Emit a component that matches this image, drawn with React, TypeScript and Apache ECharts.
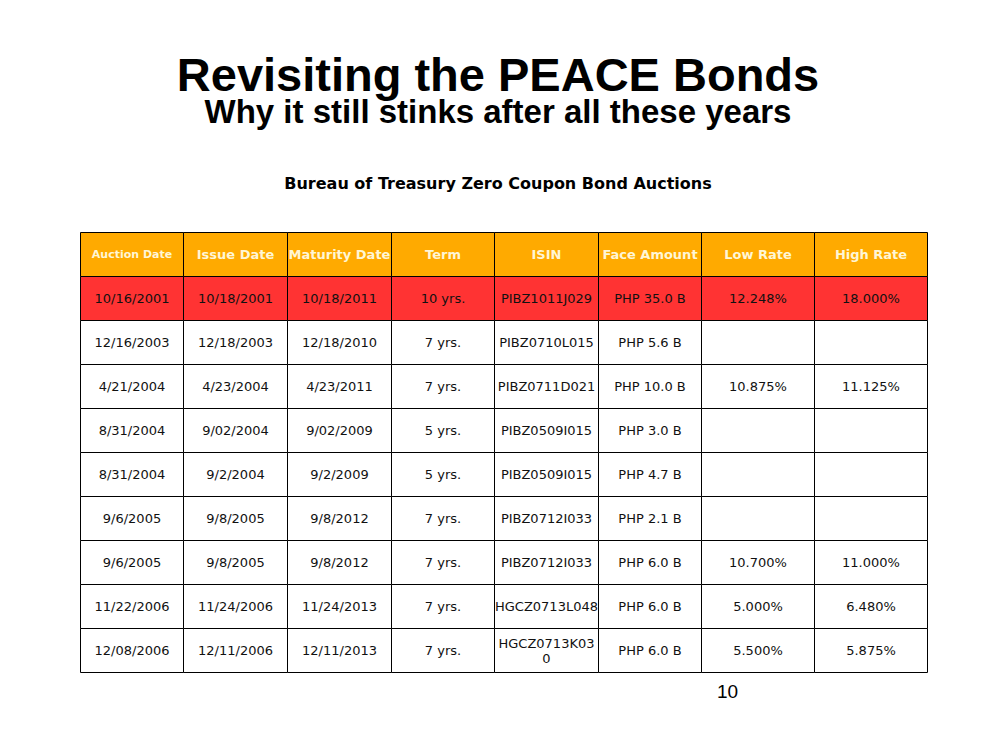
import React, { useEffect, useRef } from "react";
import * as echarts from "echarts";

const headers = ["Auction Date", "Issue Date", "Maturity Date", "Term", "ISIN", "Face Amount", "Low Rate", "High Rate"];
const auctionDates = ["10/16/2001", "12/16/2003", "4/21/2004", "8/31/2004", "8/31/2004", "9/6/2005", "9/6/2005", "11/22/2006", "12/08/2006"];
const issueDates = ["10/18/2001", "12/18/2003", "4/23/2004", "9/02/2004", "9/2/2004", "9/8/2005", "9/8/2005", "11/24/2006", "12/11/2006"];
const maturityDates = ["10/18/2011", "12/18/2010", "4/23/2011", "9/02/2009", "9/2/2009", "9/8/2012", "9/8/2012", "11/24/2013", "12/11/2013"];
const terms = ["10 yrs.", "7 yrs.", "7 yrs.", "5 yrs.", "5 yrs.", "7 yrs.", "7 yrs.", "7 yrs.", "7 yrs."];
const isins = ["PIBZ1011J029", "PIBZ0710L015", "PIBZ0711D021", "PIBZ0509I015", "PIBZ0509I015", "PIBZ0712I033", "PIBZ0712I033", "HGCZ0713L048", "HGCZ0713K030"];
const faceAmounts = ["PHP 35.0 B", "PHP 5.6 B", "PHP 10.0 B", "PHP 3.0 B", "PHP 4.7 B", "PHP 2.1 B", "PHP 6.0 B", "PHP 6.0 B", "PHP 6.0 B"];
const lowRates = ["12.248%", "", "10.875%", "", "", "", "10.700%", "5.000%", "5.500%"];
const highRates = ["18.000%", "", "11.125%", "", "", "", "11.000%", "6.480%", "5.875%"];

const columns = [auctionDates, issueDates, maturityDates, terms, isins, faceAmounts, lowRates, highRates];

// layout (column widths in axis units)
const colWidths = [103, 104, 104, 103, 104, 103, 113, 113];
const colEdges = colWidths.reduce((acc: number[], w) => { acc.push(acc[acc.length - 1] + w); return acc; }, [0]);
const totalWidth = colEdges[colEdges.length - 1];
const rowCount = auctionDates.length + 1;

const cells: { c: number; r: number; text: string }[] = [];
for (let r = 0; r < rowCount; r++) {
  for (let c = 0; c < headers.length; c++) {
    cells.push({ c, r, text: r === 0 ? headers[c] : columns[c][r - 1] });
  }
}

const FONT = '"DejaVu Sans", Verdana, sans-serif';
const SANS = '"Liberation Sans", Arial, sans-serif';

export default function App() {
  const ref = useRef<HTMLDivElement>(null);
  useEffect(() => {
    if (!ref.current) return;
    const chart = echarts.init(ref.current, undefined, { renderer: "svg" });
    chart.setOption({
      animation: false,
      backgroundColor: "#ffffff",
      title: [
        {
          text: "Revisiting the PEACE Bonds",
          left: "center",
          top: 49,
          textStyle: { fontFamily: SANS, fontWeight: "bold", fontSize: 47, lineHeight: 40, color: "#000" },
        },
        {
          text: "Why it still stinks after all these years",
          left: "center",
          top: 92,
          textStyle: { fontFamily: SANS, fontWeight: "bold", fontSize: 33, lineHeight: 28, color: "#000" },
        },
        {
          text: "Bureau of Treasury Zero Coupon Bond Auctions",
          left: "center",
          top: 170,
          textStyle: { fontFamily: FONT, fontWeight: "bold", fontSize: 16, color: "#000" },
        },
        {
          text: "10",
          left: 712,
          top: 677,
          textStyle: { fontFamily: SANS, fontWeight: "normal", fontSize: 19, color: "#000" },
        },
      ],
      grid: { left: 80, top: 232, width: 847, height: 440 },
      xAxis: { type: "value", min: 0, max: totalWidth, show: false },
      yAxis: { type: "value", min: 0, max: rowCount, inverse: true, show: false },
      series: [
        {
          type: "custom",
          coordinateSystem: "cartesian2d",
          data: cells.map((d) => [d.c, d.r]),
          renderItem: (params: any, api: any) => {
            const c = api.value(0);
            const r = api.value(1);
            const p0 = api.coord([colEdges[c], r]);
            const p1 = api.coord([colEdges[c + 1], r + 1]);
            const x = Math.round(p0[0]) + 0.5;
            const y = Math.round(p0[1]) + 0.5;
            const w = Math.round(p1[0]) - Math.round(p0[0]);
            const h = Math.round(p1[1]) - Math.round(p0[1]);
            const cell = cells[params.dataIndex];
            const isHeader = r === 0;
            const fill = isHeader ? "#FFAA00" : r === 1 ? "#FF3333" : "#FFFFFF";
            const fontSize = isHeader ? (c === 0 ? 11 : 13) : 13;
            const textStyle: any = {
              text: cell.text,
              x: x + w / 2,
              y: y + h / 2,
              align: "center",
              verticalAlign: "middle",
              lineHeight: 15,
              fill: isHeader ? "#FFF6D5" : "#111111",
              font: `${isHeader ? "bold " : ""}${fontSize}px ${FONT}`,
            };
            if (!isHeader) {
              textStyle.width = w - 1;
              textStyle.overflow = "breakAll";
            }
            return {
              type: "group",
              children: [
                {
                  type: "rect",
                  shape: { x, y, width: w, height: h },
                  style: { fill, stroke: "#000", lineWidth: 1 },
                },
                { type: "text", style: textStyle },
              ],
            };
          },
        },
      ],
    });
    return () => chart.dispose();
  }, []);
  return (
    <div
      ref={ref}
      style={{ position: "absolute", left: 0, top: 0, width: 996, height: 746, background: "#fff" }}
    />
  );
}
